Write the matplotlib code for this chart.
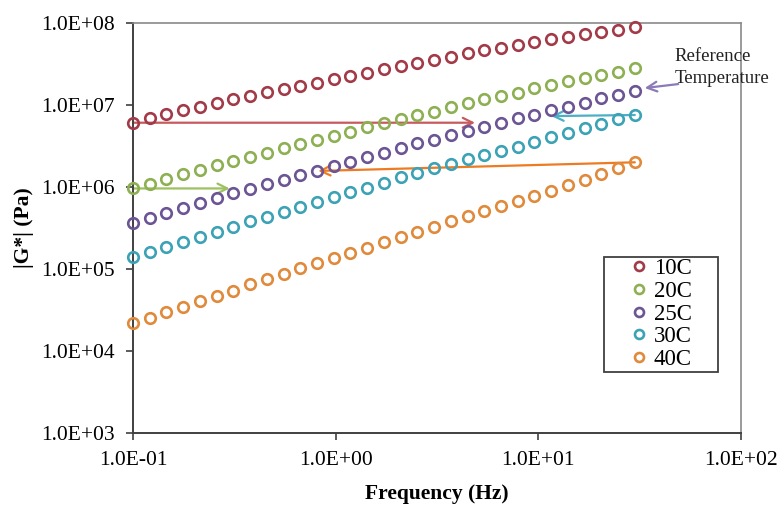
import matplotlib
matplotlib.use("Agg")
import matplotlib.pyplot as plt
from matplotlib.ticker import FixedLocator, FuncFormatter, NullLocator
from matplotlib.patches import Rectangle

plt.rcParams['font.family'] = ['Liberation Serif', 'DejaVu Serif']

# Frequency (Hz)
freq = [0.1, 0.1209, 0.1462, 0.1768, 0.2139, 0.2586, 0.3128, 0.3782, 0.4574, 0.5531,
        0.6689, 0.8089, 0.9782, 1.183, 1.431, 1.730, 2.092, 2.530, 3.060, 3.700,
        4.475, 5.411, 6.544, 7.913, 9.570, 11.57, 13.99, 16.92, 20.46, 24.75, 29.93]

# |G*| (Pa)
g_10C = [6.08e6, 6.89e6, 7.76e6, 8.69e6, 9.53e6, 1.05e7, 1.17e7, 1.29e7, 1.45e7, 1.57e7,
         1.72e7, 1.87e7, 2.06e7, 2.26e7, 2.48e7, 2.75e7, 2.99e7, 3.23e7, 3.54e7, 3.88e7,
         4.27e7, 4.69e7, 5.00e7, 5.40e7, 5.92e7, 6.32e7, 6.70e7, 7.28e7, 7.71e7, 8.22e7, 8.87e7]
g_20C = [9.60e5, 1.10e6, 1.24e6, 1.44e6, 1.61e6, 1.85e6, 2.07e6, 2.34e6, 2.62e6, 2.96e6,
         3.34e6, 3.74e6, 4.23e6, 4.72e6, 5.35e6, 5.98e6, 6.75e6, 7.55e6, 8.28e6, 9.38e6,
         1.05e7, 1.17e7, 1.29e7, 1.41e7, 1.60e7, 1.75e7, 1.96e7, 2.15e7, 2.32e7, 2.55e7, 2.81e7]
g_25C = [3.67e5, 4.23e5, 4.86e5, 5.60e5, 6.32e5, 7.28e5, 8.38e5, 9.46e5, 1.08e6, 1.22e6,
         1.40e6, 1.57e6, 1.82e6, 2.04e6, 2.34e6, 2.62e6, 3.01e6, 3.41e6, 3.74e6, 4.31e6,
         4.82e6, 5.43e6, 5.98e6, 6.89e6, 7.55e6, 8.69e6, 9.53e6, 1.07e7, 1.21e7, 1.32e7, 1.49e7]
g_30C = [1.41e5, 1.63e5, 1.87e5, 2.15e5, 2.48e5, 2.85e5, 3.28e5, 3.85e5, 4.35e5, 5.00e5,
         5.65e5, 6.50e5, 7.48e5, 8.61e5, 9.79e5, 1.13e6, 1.31e6, 1.47e6, 1.69e6, 1.91e6,
         2.18e6, 2.45e6, 2.77e6, 3.10e6, 3.56e6, 4.10e6, 4.59e6, 5.20e6, 5.86e6, 6.70e6, 7.55e6]
g_40C = [2.18e4, 2.55e4, 2.96e4, 3.47e4, 4.07e4, 4.72e4, 5.43e4, 6.50e4, 7.48e4, 8.69e4,
         1.02e5, 1.17e5, 1.35e5, 1.58e5, 1.82e5, 2.12e5, 2.44e5, 2.82e5, 3.28e5, 3.82e5,
         4.43e5, 5.09e5, 5.86e5, 6.75e5, 7.83e5, 9.02e5, 1.06e6, 1.22e6, 1.44e6, 1.69e6, 2.00e6]

labels = ['10C', '20C', '25C', '30C', '40C']
series = [g_10C, g_20C, g_25C, g_30C, g_40C]
colors = ['#A33A48', '#8DB052', '#6C5594', '#3CA2B6', '#E08A3C']
arrow_colors = ['#C75A5E', '#9DC060', '#8C7AB8', '#4BAFC6', '#EE7B22']

x_ticks = [0.1, 1, 10, 100]
y_ticks = [1e3, 1e4, 1e5, 1e6, 1e7, 1e8]

fig = plt.figure(figsize=(7.82, 5.05), dpi=100)
ax = fig.add_axes([133/782, 1-433/505, (741-133)/782, (433-23)/505])
ax.set_xscale('log')
ax.set_yscale('log')
ax.set_xlim(0.1, 100)
ax.set_ylim(1e3, 1e8)

# arrows (drawn under markers)
def arr(x0, y0, x1, y1, c):
    ax.annotate('', xy=(x1, y1), xytext=(x0, y0),
                arrowprops=dict(arrowstyle='->,head_length=0.7,head_width=0.35',
                                color=c, lw=1.6, shrinkA=0, shrinkB=0), zorder=2)

arr(freq[0], g_10C[0], 4.87, g_10C[0], arrow_colors[0])
arr(freq[0], g_20C[0], 0.30, g_20C[0], arrow_colors[1])
arr(freq[-1], g_40C[-1], 0.82, 1.57e6, arrow_colors[4])
arr(freq[-1], g_30C[-1], 11.6, g_30C[-1] * 0.97, arrow_colors[3])
arr(49, 1.80e7, 33.5, 1.61e7, arrow_colors[2])

for lab, ys, c in zip(labels, series, colors):
    ax.plot(freq, ys, linestyle='none', marker='o', markersize=7.6,
            markerfacecolor='none', markeredgecolor=c, markeredgewidth=1.9,
            label=lab, zorder=3, clip_on=False)

ax.text(47.0, 2.85e7, 'Reference\nTemperature', fontsize=13.5, ha='left', va='center',
        linespacing=1.35, color='#222222')

ax.xaxis.set_major_locator(FixedLocator(x_ticks))
ax.yaxis.set_major_locator(FixedLocator(y_ticks))
ax.xaxis.set_minor_locator(NullLocator())
ax.yaxis.set_minor_locator(NullLocator())
fmt = FuncFormatter(lambda v, p: f"{v:.1E}")
ax.xaxis.set_major_formatter(fmt)
ax.yaxis.set_major_formatter(fmt)
ax.tick_params(axis='both', direction='out', length=5, width=1.2, color='#404040',
               labelsize=15.5, pad=8)

for s in ['left', 'bottom']:
    ax.spines[s].set_color('#404040')
    ax.spines[s].set_linewidth(1.4)
for s in ['top', 'right']:
    ax.spines[s].set_color('#8a8a8a')
    ax.spines[s].set_linewidth(1.2)

ax.set_xlabel('Frequency (Hz)', fontsize=15.5, fontweight='bold', labelpad=10)
ax.set_ylabel('|G*| (Pa)', fontsize=15.5, fontweight='bold', labelpad=5)

leg = ax.legend(loc='center', bbox_to_anchor=((662-133)/608, (433-314)/410),
                frameon=False, fontsize=16.5, handlelength=0.6, handletextpad=0.35,
                labelspacing=0.08, borderpad=0, markerscale=0.85)
ax.add_patch(Rectangle(((604-133)/608, (433-372)/410), (718-604)/608, (372-257)/410,
                       transform=ax.transAxes, fill=False, edgecolor='#404040',
                       lw=1.3, zorder=4))

fig.savefig('out.png', dpi=100)
